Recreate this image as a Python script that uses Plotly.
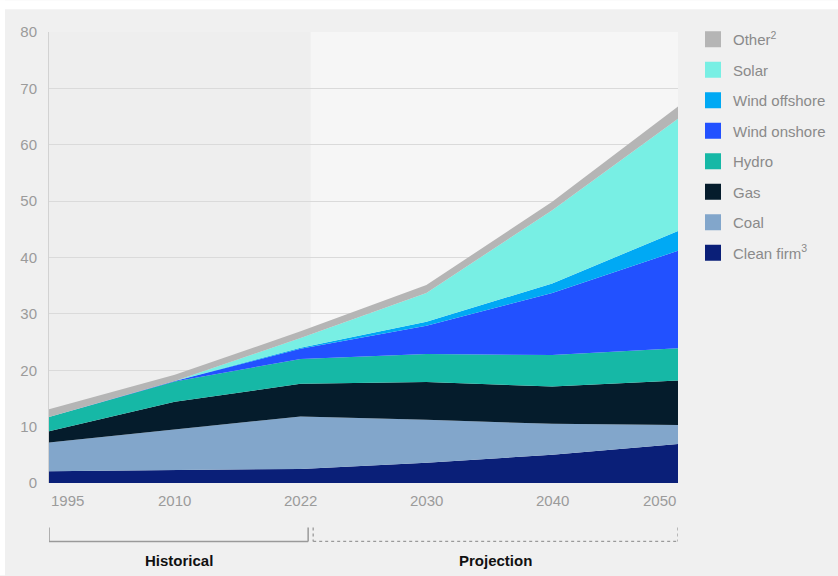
import plotly.graph_objects as go

years = ["1995", "2010", "2022", "2030", "2040", "2050"]
clean_firm = [2.1, 2.3, 2.5, 3.6, 5.0, 6.9]
coal = [5.1, 7.2, 9.3, 7.6, 5.5, 3.4]
gas = [2.0, 4.9, 5.8, 6.7, 6.6, 7.9]
hydro = [2.5, 3.6, 4.4, 5.0, 5.6, 5.7]
wind_onshore = [0.0, 0.1, 1.8, 5.0, 11.0, 17.3]
wind_offshore = [0.0, 0.0, 0.2, 0.7, 1.7, 3.5]
solar = [0.0, 0.0, 1.7, 5.1, 13.0, 19.9]
other = [1.4, 1.1, 1.2, 1.4, 1.5, 2.2]

series_names = ["Clean firm<sup>3</sup>", "Coal", "Gas", "Hydro", "Wind onshore",
                "Wind offshore", "Solar", "Other<sup>2</sup>"]
series_values = [clean_firm, coal, gas, hydro, wind_onshore, wind_offshore, solar, other]
series_colors = ["#0a1f78", "#82a6cb", "#051c2c", "#16b8a6", "#2251ff",
                 "#00a9f4", "#78efe4", "#b5b5b5"]

y_ticks = [0, 10, 20, 30, 40, 50, 60, 70, 80]
period_labels = ["Historical", "Projection"]

W, H = 838, 576
L, R, T, B = 49, 678, 31.7, 483.5


def px_x(p):
    return (p - L) / (R - L)


def px_y(p):
    return (B - p) / (B - T)


fig = go.Figure()

for name, vals, col in zip(series_names, series_values, series_colors):
    fig.add_trace(go.Scatter(
        x=years, y=vals, name=name, stackgroup="one", mode="lines",
        line=dict(width=0, color=col), fillcolor=col, showlegend=False,
        hoverinfo="x+y+name",
    ))

# legend entries (top to bottom)
for i, (name, col) in enumerate(reversed(list(zip(series_names, series_colors)))):
    fig.add_trace(go.Scatter(
        x=[None], y=[None], mode="markers", name=name, legendgroup=f"g{i}",
        marker=dict(symbol="square", size=16, color=col), showlegend=True,
        legendrank=i + 1,
    ))

shapes = []
# white top/left strips
shapes.append(dict(type="rect", xref="paper", yref="paper", x0=px_x(0), x1=px_x(W),
                   y0=px_y(9), y1=px_y(0), fillcolor="white", line=dict(width=0), layer="below"))
shapes.append(dict(type="rect", xref="paper", yref="paper", x0=px_x(0), x1=px_x(5),
                   y0=px_y(H), y1=px_y(0), fillcolor="white", line=dict(width=0), layer="below"))
# projection background
shapes.append(dict(type="rect", xref="x", yref="paper", x0=2.08, x1=5, y0=0, y1=1,
                   fillcolor="#f6f6f6", line=dict(width=0), layer="below"))

# brackets
yb_top, yb_bot = px_y(528), px_y(542)
hc = "#9a9a9a"
shapes += [
    dict(type="line", xref="x", yref="paper", x0=0, x1=0, y0=yb_top, y1=yb_bot, line=dict(color=hc, width=1.5)),
    dict(type="line", xref="x", yref="paper", x0=0, x1=2.06, y0=yb_bot, y1=yb_bot, line=dict(color=hc, width=1.5)),
    dict(type="line", xref="x", yref="paper", x0=2.06, x1=2.06, y0=yb_top, y1=yb_bot, line=dict(color=hc, width=1.5)),
    dict(type="line", xref="x", yref="paper", x0=2.1, x1=2.1, y0=yb_top, y1=yb_bot, line=dict(color=hc, width=1.3, dash="dot")),
    dict(type="line", xref="x", yref="paper", x0=2.1, x1=5, y0=yb_bot, y1=yb_bot, line=dict(color=hc, width=1.3, dash="dot")),
    dict(type="line", xref="x", yref="paper", x0=5, x1=5, y0=yb_top, y1=yb_bot, line=dict(color=hc, width=1.3, dash="dot")),
]

annotations = []
tick_font = dict(family="Liberation Sans, Arial, sans-serif", size=15, color="#9b9b9b")
for i, yr in enumerate(years):
    anchor = "left" if i == 0 else ("right" if i == len(years) - 1 else "center")
    annotations.append(dict(x=i, y=0, xref="x", yref="paper", text=yr, showarrow=False,
                            xanchor=anchor, yanchor="top", yshift=-7, font=tick_font))
label_font = dict(family="Liberation Sans, Arial, sans-serif", size=15, color="#111111")
annotations.append(dict(x=1.03, y=px_y(561), xref="x", yref="paper", text=f"<b>{period_labels[0]}</b>",
                        showarrow=False, xanchor="center", yanchor="middle", font=label_font))
annotations.append(dict(x=3.55, y=px_y(561), xref="x", yref="paper", text=f"<b>{period_labels[1]}</b>",
                        showarrow=False, xanchor="center", yanchor="middle", font=label_font))

fig.update_layout(
    width=W, height=H,
    margin=dict(l=L, r=W - R, t=T, b=H - B, pad=0),
    paper_bgcolor="#f0f0f0",
    plot_bgcolor="#eeeeee",
    font=dict(family="Liberation Sans, Arial, sans-serif", size=15, color="#8a8a8a"),
    showlegend=True,
    legend=dict(
        xref="container", yref="container", x=693 / W, y=1 - 23 / H,
        xanchor="left", yanchor="top", bgcolor="rgba(0,0,0,0)",
        font=dict(size=15, color="#8a8a8a"), tracegroupgap=8, traceorder="grouped",
        itemclick=False, itemdoubleclick=False,
    ),
    xaxis=dict(type="category", range=[0, 5], showgrid=False, showticklabels=False,
               zeroline=False, showline=False, ticks=""),
    yaxis=dict(range=[0, 80], tickvals=y_ticks, showgrid=True, gridcolor="#dadada", gridwidth=1,
               zeroline=False, showline=True, linecolor="#d2d2d2", linewidth=1,
               ticks="", ticklabelstandoff=8, tickfont=tick_font),
    shapes=shapes,
    annotations=annotations,
    hovermode=False,
)

fig.write_html("out.html")
